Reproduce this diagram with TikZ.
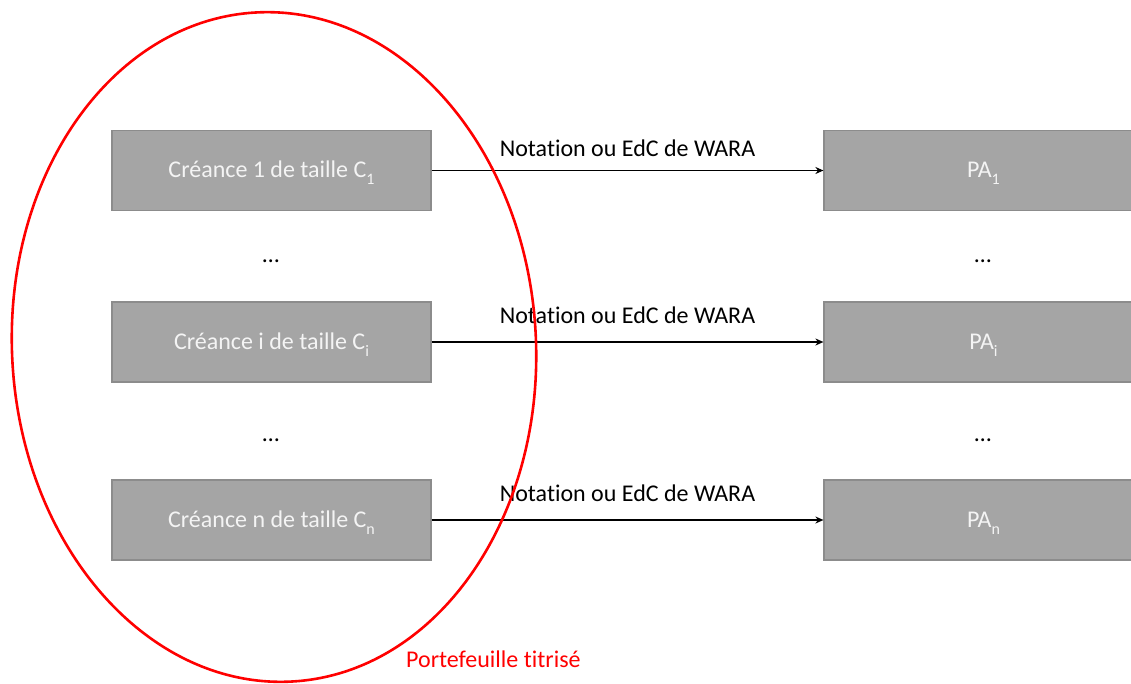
\documentclass[tikz,border=0pt]{standalone}
\usepackage{fontspec}
\setmainfont{Carlito}[Ligatures=NoCommon]
\usetikzlibrary{arrows.meta}
\definecolor{boxfill}{HTML}{A5A5A5}
\definecolor{boxline}{HTML}{8C8C8C}
\definecolor{boxtext}{HTML}{F4F4F4}
\newcommand\lowsub[1]{\raisebox{-0.3em}{\fontsize{16}{16}\selectfont #1}}
\tikzset{
  box/.style={draw=boxline, line width=1.2pt, fill=boxfill, minimum width=319pt, minimum height=80pt, inner sep=0pt, text height=14pt, text depth=0pt, text=boxtext, font=\fontsize{24}{28}\selectfont},
  conn/.style={line width=1.5pt, -{Stealth[length=8pt,width=7pt]}},
  lbl/.style={font=\fontsize{24}{28}\selectfont, text=black, anchor=base, inner sep=0pt},
  dots/.style={font=\fontsize{24}{28}\selectfont, anchor=base, inner sep=0pt},
  ring/.style={draw=red, line width=2.6pt}
}
\begin{document}
\begin{tikzpicture}[x=1pt,y=-1pt]
\useasboundingbox (0,0) rectangle (1131,684);
\node[box] (c1) at (271.5,170.5) {Créance 1 de taille C\lowsub{1}};
\node[box] (ci) at (271.5,342) {Créance i de taille C\lowsub{i}};
\node[box] (cn) at (271.5,520) {Créance n de taille C\lowsub{n}};
\node[box] (p1) at (983.5,170.5) {PA\lowsub{1}};
\node[box] (pi) at (983.5,342) {PA\lowsub{i}};
\node[box] (pn) at (983.5,520) {PA\lowsub{n}};
\node[dots] (d1) at (271,263) {…};
\node[dots] (d2) at (271,441) {…};
\node[dots] (d3) at (983,263) {…};
\node[dots] (d4) at (983,441) {…};
\draw[conn] (c1.east) -- node[lbl, yshift=14pt] (l1) {Notation ou EdC de WARA} (p1.west);
\draw[conn] (ci.east) -- node[lbl, yshift=19pt] (l2) {Notation ou EdC de WARA} (pi.west);
\draw[conn] (cn.east) -- node[lbl, yshift=19pt] (l3) {Notation ou EdC de WARA} (pn.west);
\draw[ring, rotate around={3:(274,347)}] (274,347) ellipse [x radius=262, y radius=335];
\node[lbl, text=red, anchor=base west] (pt) at (406,667) {Portefeuille titrisé};
\end{tikzpicture}
\end{document}
